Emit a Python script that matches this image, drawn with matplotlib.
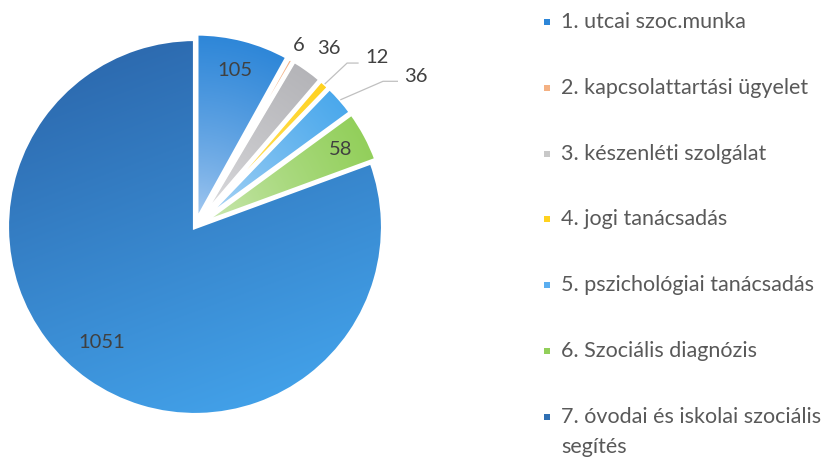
import numpy as np
import matplotlib
matplotlib.use("Agg")
import matplotlib.pyplot as plt
from matplotlib.colors import to_rgb
from matplotlib.patches import Rectangle

# Adatok
categories = [
    "1. utcai szoc.munka",
    "2. kapcsolattartási ügyelet",
    "3. készenléti szolgálat",
    "4. jogi tanácsadás",
    "5. pszichológiai tanácsadás",
    "6. Szociális diagnózis",
    "7. óvodai és iskolai szociális\nsegítés",
]
values = [105, 6, 36, 12, 36, 58, 1051]

# szeletszínek: külső szín, belső (világos) szín
base_colors = ["#2d86d8", "#f4b183", "#b4b4b8", "#ffd21f", "#4aa8ec", "#92cf5a", "#3582c8"]
light_colors = ["#b4d2f4", "#fbe0cc", "#e6e6e8", "#fff0a0", "#c6e2f8", "#d6edc4", "#3582c8"]
legend_colors = ["#2d86d8", "#f4b183", "#c8c8c8", "#ffd21f", "#5aaef0", "#92cf5a", "#2f6fb3"]

# címkék helye (adatkoordináta), ill. vezetővonal
label_pos = [(0.21, 0.835), (0.553, 0.968), (0.713, 0.952), (0.968, 0.904),
             (1.176, 0.798), (0.777, 0.41), (-0.495, -0.617)]
leader_pts = {3: [(0.809, 0.872), (0.867, 0.872)],
              4: [(1.0, 0.775), (1.085, 0.775)]}

plt.rcParams["font.family"] = ["Lato", "DejaVu Sans"]

fig = plt.figure(figsize=(8.31, 4.59), dpi=100)
R_PX = 188
cx, cy = 195, 227
half = 1.08
ax = fig.add_axes([(cx - half * R_PX) / 831, (459 - cy - half * R_PX) / 459,
                   2 * half * R_PX / 831, 2 * half * R_PX / 459])

explode = [0.03, 0.03, 0.03, 0.03, 0.03, 0.03, 0.0]
wedges, _ = ax.pie(values, startangle=90, counterclock=False, radius=1.0,
                   explode=explode,
                   wedgeprops=dict(edgecolor="white", linewidth=3.0))

# színátmenetes kitöltés a szeletekre vágva
n = 400
gx, gy = np.meshgrid(np.linspace(-1.2, 1.2, n), np.linspace(1.2, -1.2, n))
for i, w in enumerate(wedges):
    c_out = np.array(to_rgb(base_colors[i]))
    c_in = np.array(to_rgb(light_colors[i]))
    if i == len(wedges) - 1:
        # nagy szelet: sötétebb fent-balra, világosabb lent
        c_dark = np.array(to_rgb("#2d6bb0"))
        c_bright = np.array(to_rgb("#42a0e8"))
        t = ((gx * 0.35 - gy * 0.95) + 1.0) / 2.0
        t = np.clip(t, 0, 1)[..., None]
        img = c_dark * (1 - t) + c_bright * t
    else:
        wx, wy = w.center
        r = np.hypot(gx - wx, gy - wy)
        t = np.clip(r, 0, 1)[..., None] ** 0.65
        img = c_in * (1 - t) + c_out * t
    im = ax.imshow(img, extent=(-1.2, 1.2, -1.2, 1.2), zorder=1, interpolation="bilinear")
    im.set_clip_path(w)
    w.set_facecolor("none")
    w.set_zorder(2)

for i, (x, y) in enumerate(label_pos):
    ax.text(x, y, str(values[i]), ha="center", va="center", fontsize=14.5,
            color="#404040", zorder=4)

# vezetővonalak a kis szeletekhez
for i, pts in leader_pts.items():
    w = wedges[i]
    mid = np.deg2rad((w.theta1 + w.theta2) / 2)
    x0 = w.center[0] + 1.0 * np.cos(mid)
    y0 = w.center[1] + 1.0 * np.sin(mid)
    xs = [x0] + [p[0] for p in pts]
    ys = [y0] + [p[1] for p in pts]
    ax.plot(xs, ys, color="#c0c0c0", lw=0.9, zorder=3)

ax.set_xlim(-half, half)
ax.set_ylim(-half, half)
ax.set_aspect("equal")
ax.axis("off")

# jelmagyarázat
for i, lab in enumerate(categories):
    ybase = 28 + 65.8 * i
    fig.patches.append(Rectangle((544 / 831, 1 - (ybase - 3) / 459), 6 / 831, 6 / 459,
                                 transform=fig.transFigure, facecolor=legend_colors[i],
                                 edgecolor="none"))
    for j, line in enumerate(lab.split("\n")):
        fig.text(561 / 831, 1 - (ybase + 30 * j) / 459, line, ha="left", va="baseline",
                 fontsize=15.5, color="#595959")

fig.savefig("out.png", dpi=100)
